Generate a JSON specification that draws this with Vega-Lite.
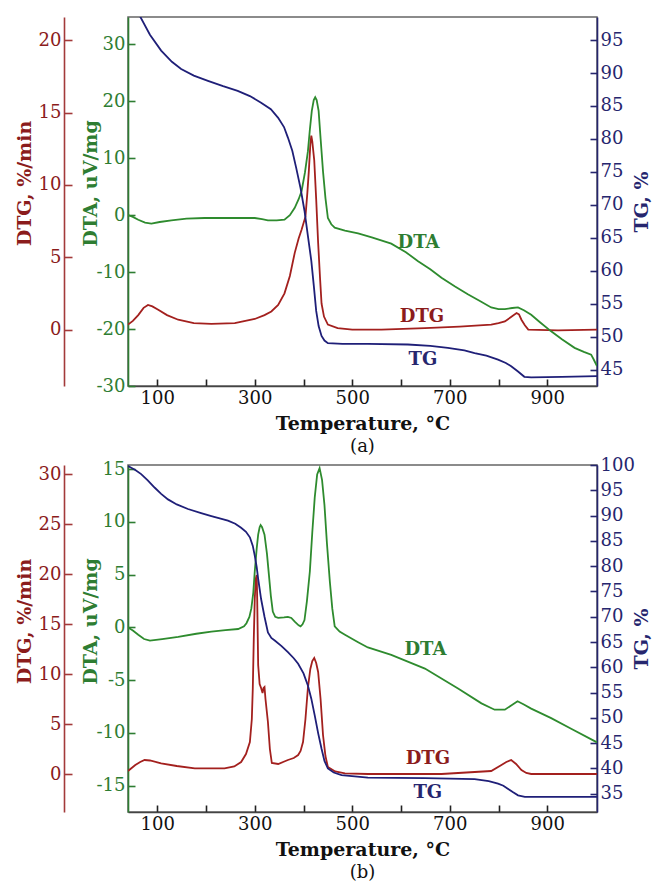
{
  "$schema": "https://vega.github.io/schema/vega-lite/v6.json",
  "padding": {"left": 14, "top": 16, "right": 5, "bottom": 0},
  "spacing": -2,
  "config": {
    "font": "DejaVu Serif",
    "view": {"stroke": "#666", "strokeWidth": 1.5},
    "axis": {"grid": false, "labelFont": "DejaVu Serif", "titleFont": "DejaVu Serif", "labelFontSize": 18, "titleFontSize": 19, "titleFontWeight": "bold", "domainWidth": 1.6, "tickWidth": 1.6, "labelOverlap": false},
    "title": {"font": "DejaVu Serif"}
  },
  "datasets": {
    "curves": [
      {"p":"a","s":"TG","T":40,"v":101.5},{"p":"a","s":"TG","T":52,"v":100.1},{"p":"a","s":"TG","T":64,"v":98.7},{"p":"a","s":"TG","T":85,"v":95.8},{"p":"a","s":"TG","T":108,"v":93.4},{"p":"a","s":"TG","T":130,"v":91.7},{"p":"a","s":"TG","T":149,"v":90.6},{"p":"a","s":"TG","T":175,"v":89.6},{"p":"a","s":"TG","T":204,"v":88.8},{"p":"a","s":"TG","T":235,"v":88.0},{"p":"a","s":"TG","T":265,"v":87.3},{"p":"a","s":"TG","T":290,"v":86.5},{"p":"a","s":"TG","T":313,"v":85.5},{"p":"a","s":"TG","T":333,"v":84.5},{"p":"a","s":"TG","T":348,"v":83.2},{"p":"a","s":"TG","T":360,"v":81.8},{"p":"a","s":"TG","T":368,"v":80.2},{"p":"a","s":"TG","T":377,"v":78.2},{"p":"a","s":"TG","T":385,"v":75.6},{"p":"a","s":"TG","T":394,"v":72.5},{"p":"a","s":"TG","T":402,"v":69.1},{"p":"a","s":"TG","T":409,"v":65.3},{"p":"a","s":"TG","T":416,"v":61.5},{"p":"a","s":"TG","T":421,"v":57.8},{"p":"a","s":"TG","T":426,"v":53.9},{"p":"a","s":"TG","T":431,"v":51.6},{"p":"a","s":"TG","T":437,"v":50.1},{"p":"a","s":"TG","T":443,"v":49.4},{"p":"a","s":"TG","T":450,"v":49.0},{"p":"a","s":"TG","T":480,"v":48.9},{"p":"a","s":"TG","T":532,"v":48.9},{"p":"a","s":"TG","T":614,"v":48.8},{"p":"a","s":"TG","T":660,"v":48.6},{"p":"a","s":"TG","T":696,"v":48.3},{"p":"a","s":"TG","T":730,"v":47.9},{"p":"a","s":"TG","T":751,"v":47.5},{"p":"a","s":"TG","T":775,"v":47.1},{"p":"a","s":"TG","T":799,"v":46.5},{"p":"a","s":"TG","T":815,"v":46.0},{"p":"a","s":"TG","T":826,"v":45.5},{"p":"a","s":"TG","T":840,"v":44.7},{"p":"a","s":"TG","T":853,"v":43.9},{"p":"a","s":"TG","T":867,"v":43.8},{"p":"a","s":"TG","T":930,"v":43.9},{"p":"a","s":"TG","T":1002,"v":44.0},

      {"p":"a","s":"DTA","T":40,"v":0},{"p":"a","s":"DTA","T":50,"v":-0.3},{"p":"a","s":"DTA","T":61,"v":-0.8},{"p":"a","s":"DTA","T":75,"v":-1.3},{"p":"a","s":"DTA","T":88,"v":-1.5},{"p":"a","s":"DTA","T":105,"v":-1.2},{"p":"a","s":"DTA","T":129,"v":-0.9},{"p":"a","s":"DTA","T":160,"v":-0.6},{"p":"a","s":"DTA","T":197,"v":-0.5},{"p":"a","s":"DTA","T":250,"v":-0.5},{"p":"a","s":"DTA","T":300,"v":-0.5},{"p":"a","s":"DTA","T":315,"v":-0.7},{"p":"a","s":"DTA","T":327,"v":-0.9},{"p":"a","s":"DTA","T":345,"v":-0.9},{"p":"a","s":"DTA","T":361,"v":-0.8},{"p":"a","s":"DTA","T":372,"v":0},{"p":"a","s":"DTA","T":382,"v":1.3},{"p":"a","s":"DTA","T":390,"v":2.8},{"p":"a","s":"DTA","T":396,"v":4.2},{"p":"a","s":"DTA","T":403,"v":7.5},{"p":"a","s":"DTA","T":409,"v":11.2},{"p":"a","s":"DTA","T":413,"v":15},{"p":"a","s":"DTA","T":417,"v":18.3},{"p":"a","s":"DTA","T":421,"v":20.2},{"p":"a","s":"DTA","T":424,"v":20.7},{"p":"a","s":"DTA","T":427,"v":20.2},{"p":"a","s":"DTA","T":431,"v":18.3},{"p":"a","s":"DTA","T":435,"v":13.5},{"p":"a","s":"DTA","T":440,"v":7.7},{"p":"a","s":"DTA","T":445,"v":3},{"p":"a","s":"DTA","T":450,"v":-0.5},{"p":"a","s":"DTA","T":457,"v":-1.6},{"p":"a","s":"DTA","T":464,"v":-2.2},{"p":"a","s":"DTA","T":485,"v":-2.7},{"p":"a","s":"DTA","T":512,"v":-3.2},{"p":"a","s":"DTA","T":540,"v":-3.9},{"p":"a","s":"DTA","T":580,"v":-5.0},{"p":"a","s":"DTA","T":610,"v":-6.5},{"p":"a","s":"DTA","T":635,"v":-8.1},{"p":"a","s":"DTA","T":660,"v":-9.5},{"p":"a","s":"DTA","T":683,"v":-11.0},{"p":"a","s":"DTA","T":710,"v":-12.5},{"p":"a","s":"DTA","T":737,"v":-13.9},{"p":"a","s":"DTA","T":760,"v":-15.0},{"p":"a","s":"DTA","T":785,"v":-16.2},{"p":"a","s":"DTA","T":800,"v":-16.5},{"p":"a","s":"DTA","T":813,"v":-16.5},{"p":"a","s":"DTA","T":828,"v":-16.3},{"p":"a","s":"DTA","T":840,"v":-16.2},{"p":"a","s":"DTA","T":852,"v":-16.7},{"p":"a","s":"DTA","T":867,"v":-17.5},{"p":"a","s":"DTA","T":885,"v":-18.8},{"p":"a","s":"DTA","T":908,"v":-20.4},{"p":"a","s":"DTA","T":930,"v":-21.8},{"p":"a","s":"DTA","T":956,"v":-23.3},{"p":"a","s":"DTA","T":975,"v":-24.0},{"p":"a","s":"DTA","T":990,"v":-24.5},{"p":"a","s":"DTA","T":995,"v":-25.3},{"p":"a","s":"DTA","T":1002,"v":-26.5},

      {"p":"a","s":"DTG","T":40,"v":0.34},{"p":"a","s":"DTG","T":50,"v":0.6},{"p":"a","s":"DTG","T":61,"v":1.0},{"p":"a","s":"DTG","T":72,"v":1.5},{"p":"a","s":"DTG","T":81,"v":1.7},{"p":"a","s":"DTG","T":90,"v":1.6},{"p":"a","s":"DTG","T":102,"v":1.37},{"p":"a","s":"DTG","T":120,"v":1.0},{"p":"a","s":"DTG","T":143,"v":0.68},{"p":"a","s":"DTG","T":175,"v":0.45},{"p":"a","s":"DTG","T":211,"v":0.39},{"p":"a","s":"DTG","T":259,"v":0.45},{"p":"a","s":"DTG","T":300,"v":0.73},{"p":"a","s":"DTG","T":320,"v":1.0},{"p":"a","s":"DTG","T":334,"v":1.25},{"p":"a","s":"DTG","T":348,"v":1.7},{"p":"a","s":"DTG","T":361,"v":2.5},{"p":"a","s":"DTG","T":372,"v":3.7},{"p":"a","s":"DTG","T":382,"v":5.3},{"p":"a","s":"DTG","T":390,"v":6.3},{"p":"a","s":"DTG","T":396,"v":6.9},{"p":"a","s":"DTG","T":404,"v":7.8},{"p":"a","s":"DTG","T":408,"v":9.5},{"p":"a","s":"DTG","T":411,"v":11.0},{"p":"a","s":"DTG","T":414,"v":12.8},{"p":"a","s":"DTG","T":416,"v":13.4},{"p":"a","s":"DTG","T":418,"v":13.0},{"p":"a","s":"DTG","T":422,"v":11.7},{"p":"a","s":"DTG","T":426,"v":9.0},{"p":"a","s":"DTG","T":430,"v":6.0},{"p":"a","s":"DTG","T":434,"v":3.5},{"p":"a","s":"DTG","T":437,"v":1.8},{"p":"a","s":"DTG","T":442,"v":0.9},{"p":"a","s":"DTG","T":450,"v":0.34},{"p":"a","s":"DTG","T":470,"v":0.1},{"p":"a","s":"DTG","T":500,"v":0},{"p":"a","s":"DTG","T":560,"v":0},{"p":"a","s":"DTG","T":649,"v":0.1},{"p":"a","s":"DTG","T":720,"v":0.2},{"p":"a","s":"DTG","T":785,"v":0.34},{"p":"a","s":"DTG","T":800,"v":0.45},{"p":"a","s":"DTG","T":813,"v":0.56},{"p":"a","s":"DTG","T":825,"v":0.85},{"p":"a","s":"DTG","T":837,"v":1.14},{"p":"a","s":"DTG","T":842,"v":1.05},{"p":"a","s":"DTG","T":847,"v":0.68},{"p":"a","s":"DTG","T":854,"v":0.3},{"p":"a","s":"DTG","T":861,"v":0},{"p":"a","s":"DTG","T":922,"v":-0.05},{"p":"a","s":"DTG","T":1002,"v":0},

      {"p":"b","s":"TG","T":40,"v":99.8},{"p":"b","s":"TG","T":55,"v":99.0},{"p":"b","s":"TG","T":67,"v":98.2},{"p":"b","s":"TG","T":80,"v":97.0},{"p":"b","s":"TG","T":95,"v":95.5},{"p":"b","s":"TG","T":108,"v":94.3},{"p":"b","s":"TG","T":122,"v":93.2},{"p":"b","s":"TG","T":140,"v":92.2},{"p":"b","s":"TG","T":163,"v":91.3},{"p":"b","s":"TG","T":190,"v":90.5},{"p":"b","s":"TG","T":211,"v":89.9},{"p":"b","s":"TG","T":230,"v":89.4},{"p":"b","s":"TG","T":245,"v":89.0},{"p":"b","s":"TG","T":260,"v":88.4},{"p":"b","s":"TG","T":272,"v":87.6},{"p":"b","s":"TG","T":282,"v":86.8},{"p":"b","s":"TG","T":290,"v":85.7},{"p":"b","s":"TG","T":296,"v":84.0},{"p":"b","s":"TG","T":300,"v":82.1},{"p":"b","s":"TG","T":304,"v":79.8},{"p":"b","s":"TG","T":307,"v":77.5},{"p":"b","s":"TG","T":310,"v":75.5},{"p":"b","s":"TG","T":313,"v":73.5},{"p":"b","s":"TG","T":320,"v":70.0},{"p":"b","s":"TG","T":327,"v":66.9},{"p":"b","s":"TG","T":334,"v":65.8},{"p":"b","s":"TG","T":341,"v":65.3},{"p":"b","s":"TG","T":355,"v":64.2},{"p":"b","s":"TG","T":368,"v":63.0},{"p":"b","s":"TG","T":380,"v":61.8},{"p":"b","s":"TG","T":389,"v":60.7},{"p":"b","s":"TG","T":400,"v":58.8},{"p":"b","s":"TG","T":409,"v":56.4},{"p":"b","s":"TG","T":416,"v":53.8},{"p":"b","s":"TG","T":423,"v":50.5},{"p":"b","s":"TG","T":430,"v":47.0},{"p":"b","s":"TG","T":437,"v":43.9},{"p":"b","s":"TG","T":443,"v":41.5},{"p":"b","s":"TG","T":450,"v":40.0},{"p":"b","s":"TG","T":462,"v":39.2},{"p":"b","s":"TG","T":478,"v":38.7},{"p":"b","s":"TG","T":532,"v":38.2},{"p":"b","s":"TG","T":649,"v":38.1},{"p":"b","s":"TG","T":751,"v":37.9},{"p":"b","s":"TG","T":780,"v":37.5},{"p":"b","s":"TG","T":799,"v":37.0},{"p":"b","s":"TG","T":810,"v":36.6},{"p":"b","s":"TG","T":819,"v":36.0},{"p":"b","s":"TG","T":830,"v":35.3},{"p":"b","s":"TG","T":840,"v":34.7},{"p":"b","s":"TG","T":854,"v":34.4},{"p":"b","s":"TG","T":1002,"v":34.4},

      {"p":"b","s":"DTA","T":40,"v":0},{"p":"b","s":"DTA","T":50,"v":-0.3},{"p":"b","s":"DTA","T":61,"v":-0.7},{"p":"b","s":"DTA","T":73,"v":-1.1},{"p":"b","s":"DTA","T":85,"v":-1.25},{"p":"b","s":"DTA","T":110,"v":-1.1},{"p":"b","s":"DTA","T":143,"v":-0.9},{"p":"b","s":"DTA","T":180,"v":-0.6},{"p":"b","s":"DTA","T":211,"v":-0.4},{"p":"b","s":"DTA","T":240,"v":-0.25},{"p":"b","s":"DTA","T":266,"v":-0.15},{"p":"b","s":"DTA","T":278,"v":0.1},{"p":"b","s":"DTA","T":283,"v":0.4},{"p":"b","s":"DTA","T":289,"v":1.0},{"p":"b","s":"DTA","T":293,"v":1.8},{"p":"b","s":"DTA","T":297,"v":3.3},{"p":"b","s":"DTA","T":300,"v":5.3},{"p":"b","s":"DTA","T":304,"v":7.5},{"p":"b","s":"DTA","T":307,"v":8.8},{"p":"b","s":"DTA","T":310,"v":9.5},{"p":"b","s":"DTA","T":312,"v":9.7},{"p":"b","s":"DTA","T":315,"v":9.5},{"p":"b","s":"DTA","T":320,"v":8.8},{"p":"b","s":"DTA","T":325,"v":7.0},{"p":"b","s":"DTA","T":329,"v":5.0},{"p":"b","s":"DTA","T":333,"v":3.0},{"p":"b","s":"DTA","T":337,"v":1.5},{"p":"b","s":"DTA","T":342,"v":1.0},{"p":"b","s":"DTA","T":348,"v":0.9},{"p":"b","s":"DTA","T":360,"v":0.95},{"p":"b","s":"DTA","T":368,"v":1.0},{"p":"b","s":"DTA","T":375,"v":0.9},{"p":"b","s":"DTA","T":382,"v":0.55},{"p":"b","s":"DTA","T":390,"v":0.2},{"p":"b","s":"DTA","T":394,"v":0.1},{"p":"b","s":"DTA","T":398,"v":0.3},{"p":"b","s":"DTA","T":402,"v":0.7},{"p":"b","s":"DTA","T":407,"v":2.5},{"p":"b","s":"DTA","T":413,"v":5.3},{"p":"b","s":"DTA","T":418,"v":9.0},{"p":"b","s":"DTA","T":423,"v":12.3},{"p":"b","s":"DTA","T":428,"v":14.5},{"p":"b","s":"DTA","T":433,"v":15.1},{"p":"b","s":"DTA","T":438,"v":14.0},{"p":"b","s":"DTA","T":443,"v":11.6},{"p":"b","s":"DTA","T":448,"v":8.0},{"p":"b","s":"DTA","T":454,"v":4.35},{"p":"b","s":"DTA","T":459,"v":1.8},{"p":"b","s":"DTA","T":464,"v":0.1},{"p":"b","s":"DTA","T":474,"v":-0.4},{"p":"b","s":"DTA","T":485,"v":-0.7},{"p":"b","s":"DTA","T":512,"v":-1.4},{"p":"b","s":"DTA","T":532,"v":-1.9},{"p":"b","s":"DTA","T":580,"v":-2.6},{"p":"b","s":"DTA","T":649,"v":-3.9},{"p":"b","s":"DTA","T":717,"v":-5.8},{"p":"b","s":"DTA","T":765,"v":-7.2},{"p":"b","s":"DTA","T":792,"v":-7.8},{"p":"b","s":"DTA","T":813,"v":-7.8},{"p":"b","s":"DTA","T":826,"v":-7.4},{"p":"b","s":"DTA","T":839,"v":-7.0},{"p":"b","s":"DTA","T":852,"v":-7.3},{"p":"b","s":"DTA","T":867,"v":-7.7},{"p":"b","s":"DTA","T":908,"v":-8.6},{"p":"b","s":"DTA","T":949,"v":-9.6},{"p":"b","s":"DTA","T":1002,"v":-10.9},

      {"p":"b","s":"DTG","T":40,"v":0.3},{"p":"b","s":"DTG","T":55,"v":0.9},{"p":"b","s":"DTG","T":65,"v":1.2},{"p":"b","s":"DTG","T":74,"v":1.4},{"p":"b","s":"DTG","T":85,"v":1.35},{"p":"b","s":"DTG","T":108,"v":1.07},{"p":"b","s":"DTG","T":140,"v":0.8},{"p":"b","s":"DTG","T":177,"v":0.57},{"p":"b","s":"DTG","T":238,"v":0.57},{"p":"b","s":"DTG","T":258,"v":0.75},{"p":"b","s":"DTG","T":272,"v":1.2},{"p":"b","s":"DTG","T":282,"v":2.0},{"p":"b","s":"DTG","T":290,"v":3.2},{"p":"b","s":"DTG","T":294,"v":5.5},{"p":"b","s":"DTG","T":296,"v":8.6},{"p":"b","s":"DTG","T":298,"v":13.5},{"p":"b","s":"DTG","T":300,"v":17.5},{"p":"b","s":"DTG","T":302,"v":19.5},{"p":"b","s":"DTG","T":304,"v":19.9},{"p":"b","s":"DTG","T":305,"v":17.5},{"p":"b","s":"DTG","T":307,"v":10.9},{"p":"b","s":"DTG","T":310,"v":9.0},{"p":"b","s":"DTG","T":313,"v":8.6},{"p":"b","s":"DTG","T":316,"v":8.1},{"p":"b","s":"DTG","T":318,"v":8.6},{"p":"b","s":"DTG","T":320,"v":8.7},{"p":"b","s":"DTG","T":322,"v":7.5},{"p":"b","s":"DTG","T":327,"v":5.2},{"p":"b","s":"DTG","T":331,"v":2.5},{"p":"b","s":"DTG","T":335,"v":1.1},{"p":"b","s":"DTG","T":348,"v":1.0},{"p":"b","s":"DTG","T":368,"v":1.4},{"p":"b","s":"DTG","T":380,"v":1.6},{"p":"b","s":"DTG","T":389,"v":1.9},{"p":"b","s":"DTG","T":394,"v":2.3},{"p":"b","s":"DTG","T":399,"v":3.2},{"p":"b","s":"DTG","T":404,"v":5.5},{"p":"b","s":"DTG","T":409,"v":8.6},{"p":"b","s":"DTG","T":414,"v":10.5},{"p":"b","s":"DTG","T":418,"v":11.3},{"p":"b","s":"DTG","T":422,"v":11.6},{"p":"b","s":"DTG","T":426,"v":11.1},{"p":"b","s":"DTG","T":430,"v":10.2},{"p":"b","s":"DTG","T":435,"v":7.5},{"p":"b","s":"DTG","T":440,"v":3.9},{"p":"b","s":"DTG","T":445,"v":1.8},{"p":"b","s":"DTG","T":450,"v":0.7},{"p":"b","s":"DTG","T":465,"v":0.25},{"p":"b","s":"DTG","T":485,"v":0.07},{"p":"b","s":"DTG","T":532,"v":0},{"p":"b","s":"DTG","T":683,"v":0},{"p":"b","s":"DTG","T":785,"v":0.3},{"p":"b","s":"DTG","T":806,"v":0.9},{"p":"b","s":"DTG","T":816,"v":1.2},{"p":"b","s":"DTG","T":826,"v":1.4},{"p":"b","s":"DTG","T":836,"v":1.0},{"p":"b","s":"DTG","T":847,"v":0.4},{"p":"b","s":"DTG","T":857,"v":0.1},{"p":"b","s":"DTG","T":867,"v":0},{"p":"b","s":"DTG","T":1002,"v":0}
    ],
    "labels": [
      {"p":"a","s":"DTA","T":636,"v":-4.8,"label":"DTA"},
      {"p":"a","s":"DTG","T":643,"v":0.85,"label":"DTG"},
      {"p":"a","s":"TG","T":645,"v":46.4,"label":"TG"},
      {"p":"b","s":"DTA","T":650,"v":-2.1,"label":"DTA"},
      {"p":"b","s":"DTG","T":655,"v":1.5,"label":"DTG"},
      {"p":"b","s":"TG","T":655,"v":35.2,"label":"TG"}
    ]
  },
  "vconcat": [
    {
      "width": 469, "height": 369,
      "title": {"text": "(a)", "orient": "bottom", "fontSize": 18, "fontWeight": "normal", "color": "#111", "offset": 5},
      "encoding": {
        "x": {"field": "T", "type": "quantitative", "scale": {"domain": [40, 1002], "nice": false, "zero": false},
          "axis": {"values": [100,200,300,400,500,600,700,800,900], "labelExpr": "datum.value % 200 == 100 ? datum.label : ''", "tickSize": -7, "labelPadding": 10, "title": "Temperature, °C", "titlePadding": 7, "domainColor": "#444", "tickColor": "#222", "labelColor": "#111", "titleColor": "#111"}}
      },
      "layer": [
        {"layer": [
          {"data": {"name": "curves"}, "transform": [{"filter": "datum.p == 'a' && datum.s == 'DTG'"}],
           "mark": {"type": "line", "color": "#a3201e", "strokeWidth": 1.8, "clip": true},
           "encoding": {"y": {"field": "v", "type": "quantitative", "scale": {"domain": [-3.9, 21.6], "nice": false, "zero": false},
             "axis": {"orient": "left", "offset": 64, "values": [0,5,10,15,20], "labelExpr": "datum.value + ''", "labelOverlap": false, "title": "DTG, %/min", "tickSize": -8, "labelPadding": 11, "domainColor": "#a33a3a", "tickColor": "#a33a3a", "labelColor": "#8b1c1c", "titleColor": "#8b1c1c", "titleAngle": 270, "titleBaseline": "middle", "titleX": -40, "titleY": 166}}}},
          {"data": {"name": "labels"}, "transform": [{"filter": "datum.p == 'a' && datum.s == 'DTG'"}],
           "mark": {"type": "text", "color": "#8b1c1c", "fontSize": 18, "fontWeight": "bold", "font": "DejaVu Serif"},
           "encoding": {"y": {"field": "v", "type": "quantitative"}, "text": {"field": "label"}}}
        ]},
        {"layer": [
          {"data": {"name": "curves"}, "transform": [{"filter": "datum.p == 'a' && datum.s == 'DTA'"}],
           "mark": {"type": "line", "color": "#2e8b2e", "strokeWidth": 1.8, "clip": true},
           "encoding": {"y": {"field": "v", "type": "quantitative", "scale": {"domain": [-30, 34.8], "nice": false, "zero": false},
             "axis": {"orient": "left", "offset": 0, "values": [-30,-20,-10,0,10,20,30], "labelExpr": "datum.value + ''", "labelOverlap": false, "title": "DTA, uV/mg", "tickSize": -7, "labelPadding": 10, "domainColor": "#2e7d32", "tickColor": "#2e7d32", "labelColor": "#2e7d32", "titleColor": "#2e7d32", "titleAngle": 270, "titleBaseline": "middle", "titleX": -38, "titleY": 166}}}},
          {"data": {"name": "labels"}, "transform": [{"filter": "datum.p == 'a' && datum.s == 'DTA'"}],
           "mark": {"type": "text", "color": "#2e7d32", "fontSize": 18, "fontWeight": "bold", "font": "DejaVu Serif"},
           "encoding": {"y": {"field": "v", "type": "quantitative"}, "text": {"field": "label"}}}
        ]},
        {"layer": [
          {"data": {"name": "curves"}, "transform": [{"filter": "datum.p == 'a' && datum.s == 'TG'"}],
           "mark": {"type": "line", "color": "#1f1f78", "strokeWidth": 1.8, "clip": true},
           "encoding": {"y": {"field": "v", "type": "quantitative", "scale": {"domain": [42.5, 98.5], "nice": false, "zero": false},
             "axis": {"orient": "right", "values": [45,50,55,60,65,70,75,80,85,90,95], "labelExpr": "datum.value + ''", "labelOverlap": false, "title": "TG, %", "tickSize": -7, "labelPadding": 10, "domainColor": "#26266e", "tickColor": "#26266e", "labelColor": "#26266e", "titleColor": "#26266e", "titleAngle": 270, "titleBaseline": "middle", "titleX": 44}}}},
          {"data": {"name": "labels"}, "transform": [{"filter": "datum.p == 'a' && datum.s == 'TG'"}],
           "mark": {"type": "text", "color": "#26266e", "fontSize": 18, "fontWeight": "bold", "font": "DejaVu Serif"},
           "encoding": {"y": {"field": "v", "type": "quantitative",
             "axis": {"orient": "right", "values": [45,50,55,60,65,70,75,80,85,90,95], "labelExpr": "datum.value + ''", "labelOverlap": false, "title": "TG, %", "tickSize": -7, "labelPadding": 10, "domainColor": "#26266e", "tickColor": "#26266e", "labelColor": "#26266e", "titleColor": "#26266e", "titleAngle": 270, "titleBaseline": "middle", "titleX": 44}}, "text": {"field": "label"}}}
        ]}
      ],
      "resolve": {"scale": {"y": "independent"}, "axis": {"y": "independent"}}
    },
    {
      "width": 469, "height": 347,
      "title": {"text": "(b)", "orient": "bottom", "fontSize": 18, "fontWeight": "normal", "color": "#111", "offset": 5},
      "encoding": {
        "x": {"field": "T", "type": "quantitative", "scale": {"domain": [40, 1002], "nice": false, "zero": false},
          "axis": {"values": [100,200,300,400,500,600,700,800,900], "labelExpr": "datum.value % 200 == 100 ? datum.label : ''", "tickSize": -7, "labelPadding": 10, "title": "Temperature, °C", "titlePadding": 7, "domainColor": "#444", "tickColor": "#222", "labelColor": "#111", "titleColor": "#111"}}
      },
      "layer": [
        {"layer": [
          {"data": {"name": "curves"}, "transform": [{"filter": "datum.p == 'b' && datum.s == 'DTG'"}],
           "mark": {"type": "line", "color": "#a3201e", "strokeWidth": 1.8, "clip": true},
           "encoding": {"y": {"field": "v", "type": "quantitative", "scale": {"domain": [-3.8, 30.9], "nice": false, "zero": false},
             "axis": {"orient": "left", "offset": 64, "values": [0,5,10,15,20,25,30], "labelExpr": "datum.value + ''", "labelOverlap": false, "title": "DTG, %/min", "tickSize": -8, "labelPadding": 11, "domainColor": "#a33a3a", "tickColor": "#a33a3a", "labelColor": "#8b1c1c", "titleColor": "#8b1c1c", "titleAngle": 270, "titleBaseline": "middle", "titleX": -40, "titleY": 156}}}},
          {"data": {"name": "labels"}, "transform": [{"filter": "datum.p == 'b' && datum.s == 'DTG'"}],
           "mark": {"type": "text", "color": "#8b1c1c", "fontSize": 18, "fontWeight": "bold", "font": "DejaVu Serif"},
           "encoding": {"y": {"field": "v", "type": "quantitative"}, "text": {"field": "label"}}}
        ]},
        {"layer": [
          {"data": {"name": "curves"}, "transform": [{"filter": "datum.p == 'b' && datum.s == 'DTA'"}],
           "mark": {"type": "line", "color": "#2e8b2e", "strokeWidth": 1.8, "clip": true},
           "encoding": {"y": {"field": "v", "type": "quantitative", "scale": {"domain": [-17.5, 15.4], "nice": false, "zero": false},
             "axis": {"orient": "left", "offset": 0, "values": [-15,-10,-5,0,5,10,15], "labelExpr": "datum.value + ''", "labelOverlap": false, "title": "DTA, uV/mg", "tickSize": -7, "labelPadding": 10, "domainColor": "#2e7d32", "tickColor": "#2e7d32", "labelColor": "#2e7d32", "titleColor": "#2e7d32", "titleAngle": 270, "titleBaseline": "middle", "titleX": -38, "titleY": 156}}}},
          {"data": {"name": "labels"}, "transform": [{"filter": "datum.p == 'b' && datum.s == 'DTA'"}],
           "mark": {"type": "text", "color": "#2e7d32", "fontSize": 18, "fontWeight": "bold", "font": "DejaVu Serif"},
           "encoding": {"y": {"field": "v", "type": "quantitative"}, "text": {"field": "label"}}}
        ]},
        {"layer": [
          {"data": {"name": "curves"}, "transform": [{"filter": "datum.p == 'b' && datum.s == 'TG'"}],
           "mark": {"type": "line", "color": "#1f1f78", "strokeWidth": 1.8, "clip": true},
           "encoding": {"y": {"field": "v", "type": "quantitative", "scale": {"domain": [31.4, 100], "nice": false, "zero": false},
             "axis": {"orient": "right", "values": [35,40,45,50,55,60,65,70,75,80,85,90,95,100], "labelExpr": "datum.value + ''", "labelOverlap": false, "title": "TG, %", "tickSize": -7, "labelPadding": 10, "domainColor": "#26266e", "tickColor": "#26266e", "labelColor": "#26266e", "titleColor": "#26266e", "titleAngle": 270, "titleBaseline": "middle", "titleX": 44}}}},
          {"data": {"name": "labels"}, "transform": [{"filter": "datum.p == 'b' && datum.s == 'TG'"}],
           "mark": {"type": "text", "color": "#26266e", "fontSize": 18, "fontWeight": "bold", "font": "DejaVu Serif"},
           "encoding": {"y": {"field": "v", "type": "quantitative",
             "axis": {"orient": "right", "values": [35,40,45,50,55,60,65,70,75,80,85,90,95,100], "labelExpr": "datum.value + ''", "labelOverlap": false, "title": "TG, %", "tickSize": -7, "labelPadding": 10, "domainColor": "#26266e", "tickColor": "#26266e", "labelColor": "#26266e", "titleColor": "#26266e", "titleAngle": 270, "titleBaseline": "middle", "titleX": 44}}, "text": {"field": "label"}}}
        ]}
      ],
      "resolve": {"scale": {"y": "independent"}, "axis": {"y": "independent"}}
    }
  ]
}
